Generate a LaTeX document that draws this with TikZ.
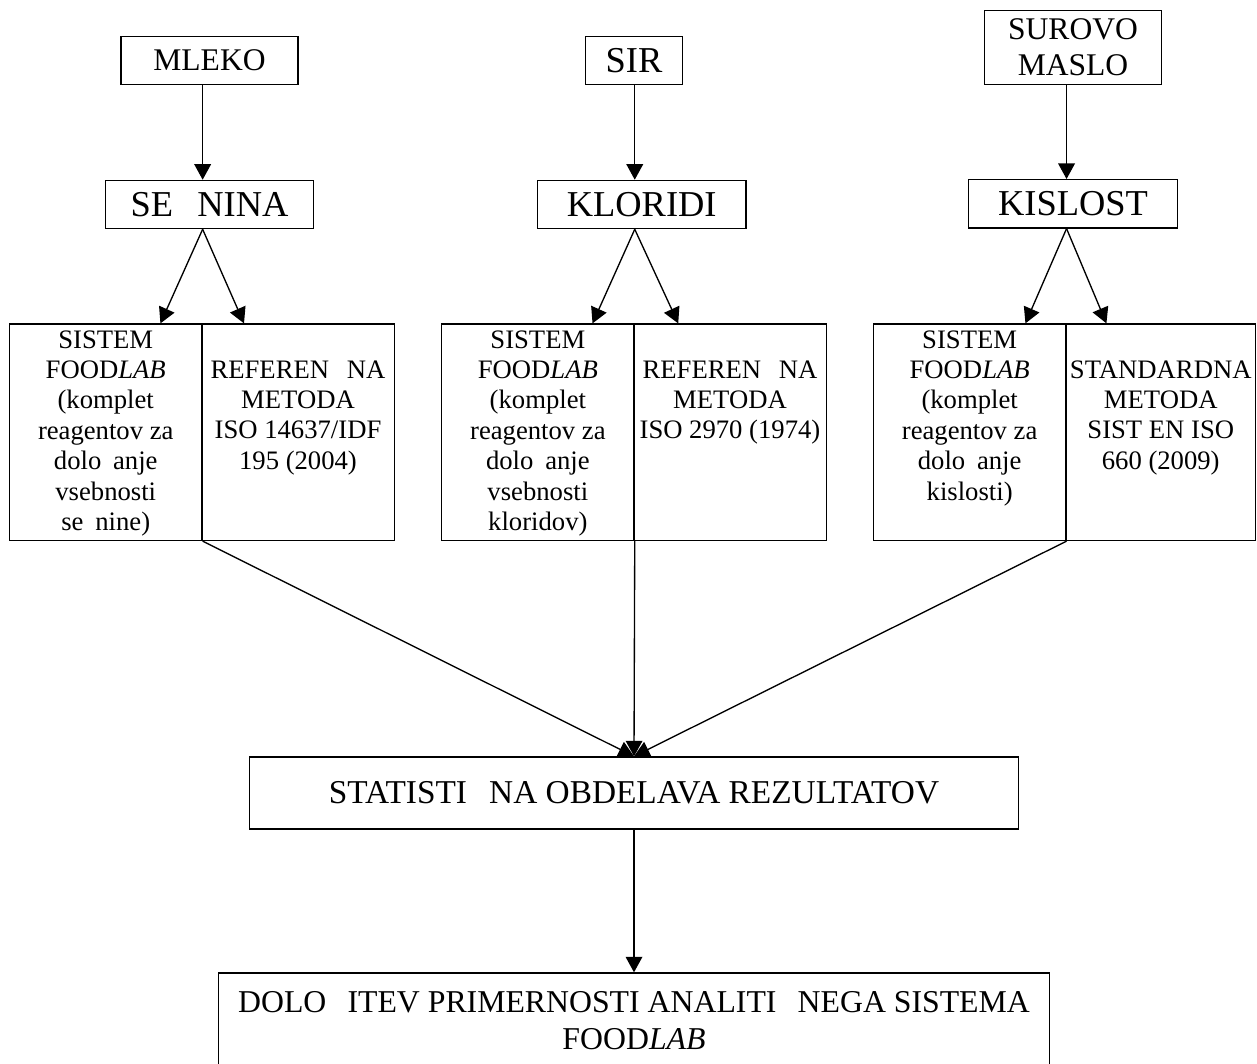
\documentclass[tikz,border=0pt]{standalone}
\usepackage{fontspec}
\setmainfont{Liberation Serif}
\usetikzlibrary{positioning,arrows.meta}
\newcommand\missC{\hphantom{Č}}
\newcommand\missc{\hphantom{č}}

\begin{document}
\begin{tikzpicture}[x=0.45pt,y=-0.45pt,>={Triangle[length=7pt,width=7.5pt]},
  line width=0.6pt,
  box/.style={draw,inner sep=0pt,align=center},
  cell/.style={box,minimum width=86.6pt,minimum height=97.4pt},
  celltext/.style={align=center,inner sep=0pt,font=\fontsize{12}{13.7}\selectfont},
  mid font/.style={font=\fontsize{14.2}{16.2}\selectfont},
  big font/.style={font=\fontsize{16.4}{18.5}\selectfont}]
  \useasboundingbox (0,0) rectangle (1257,1063);

  % samples
  \node[box,mid font,minimum width=79.7pt,minimum height=21.7pt] (milk) at (209.5,60.5) {MLEKO};
  \node[box,big font,minimum width=43.5pt,minimum height=21.7pt] (cheese) at (634,60.5) {SIR};
  \node[box,mid font,minimum width=79.8pt,minimum height=33.1pt] (butter) at (1073,47.5) {SUROVO\\MASLO};

  % parameters
  \node[box,big font,minimum width=93.4pt,minimum height=21.7pt] (fat) at (209.5,204.5) {SE\missC NINA};
  \node[box,big font,minimum width=93.9pt,minimum height=21.7pt] (salt) at (641.7,204.5) {KLORIDI};
  \node[box,big font,minimum width=93.9pt,minimum height=21.7pt] (acid) at (1073,203.8) {KISLOST};

  % methods
  \node[cell] (fatA) at (105.75,432.25) {};
  \node[cell] (fatB) at (298,432.25) {};
  \node[cell] (saltA) at (537.85,432.25) {};
  \node[cell] (saltB) at (730,432.25) {};
  \node[cell] (acidA) at (969.65,432.25) {};
  \node[cell,minimum width=85.3pt] (acidB) at (1160.75,432.25) {};

  \node[celltext,below=1.2pt of fatA.north] (fatAtext) {\strut SISTEM\\FOOD\textit{LAB}\\(komplet\\reagentov za\\dolo\missc anje\\vsebnosti\\se\missc nine)};
  \node[celltext,below=14.7pt of fatB.north] (fatBtext) {\strut REFEREN\missC NA\\METODA\\ISO 14637/IDF\\195 (2004)};
  \node[celltext,below=1.2pt of saltA.north] (saltAtext) {\strut SISTEM\\FOOD\textit{LAB}\\(komplet\\reagentov za\\dolo\missc anje\\vsebnosti\\kloridov)};
  \node[celltext,below=14.7pt of saltB.north] (saltBtext) {\strut REFEREN\missC NA\\METODA\\ISO 2970 (1974)};
  \node[celltext,below=1.2pt of acidA.north] (acidAtext) {\strut SISTEM\\FOOD\textit{LAB}\\(komplet\\reagentov za\\dolo\missc anje\\kislosti)};
  \node[celltext,below=14.7pt of acidB.north] (acidBtext) {\strut STANDARDNA\\METODA\\SIST EN ISO\\660 (2009)};

  % results
  \node[box,font=\fontsize{15}{17}\selectfont,minimum width=346pt,minimum height=32.4pt] (stat) at (634,793) {STATISTI\missC NA OBDELAVA REZULTATOV};
  \node[box,font=\fontsize{14.3}{16.6}\selectfont,minimum width=374pt,minimum height=43.2pt] (final) at (634,1021)
    {DOLO\missC ITEV PRIMERNOSTI ANALITI\missC NEGA SISTEMA\\FOOD\textit{LAB}};

  \draw[->] (milk.south -| fatA.east) -- (fat.north -| fatA.east);
  \draw[->] (cheese.south -| saltA.east) -- (salt.north -| saltA.east);
  \draw[->] (butter.south -| acidA.east) -- (acid.north -| acidA.east);

  \draw[->] (fat.south -| fatA.east) -- ([xshift=-19pt]fatA.north east);
  \draw[->] (fat.south -| fatA.east) -- ([xshift=19.3pt]fatB.north west);
  \draw[->] (salt.south -| saltA.east) -- ([xshift=-19pt]saltA.north east);
  \draw[->] (salt.south -| saltA.east) -- ([xshift=20.3pt]saltB.north west);
  \draw[->] (acid.south -| acidA.east) -- ([xshift=-18.5pt]acidA.north east);
  \draw[->] (acid.south -| acidA.east) -- ([xshift=18.5pt]acidB.north west);

  \draw[->] (fatA.south east) -- (stat.north);
  \draw[->] (saltA.south east) -- (stat.north);
  \draw[->] (acidA.south east) -- (stat.north);
  \draw[->] (stat) -- (final);
\end{tikzpicture}
\end{document}
